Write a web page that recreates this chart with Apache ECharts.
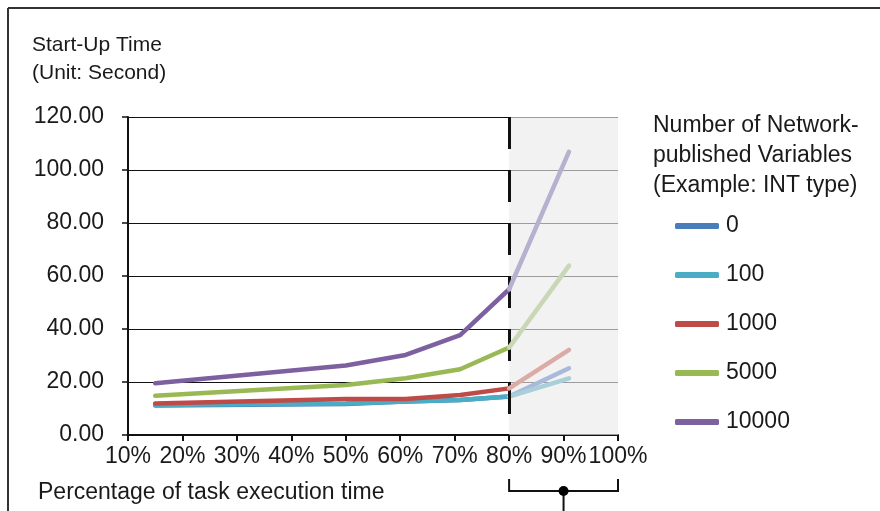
<!DOCTYPE html>
<html>
<head>
<meta charset="utf-8">
<script src="https://cdn.jsdelivr.net/npm/echarts@6/dist/echarts.min.js"></script>
<style>
  html, body { margin: 0; padding: 0; background: #fff; }
  #chart { width: 880px; height: 511px; }
</style>
</head>
<body>
<div id="chart"></div>
<script>
// x positions (percentage of task execution time)
const xPct = [15, 50, 61, 71, 80, 91]
const seriesNames = ['0', '100', '1000', '5000', '10000']
const vals0 = [11.1, 11.7, 12.6, 13.2, 14.5, 25.2]
const vals100 = [11.3, 11.9, 12.6, 13.2, 14.5, 21.4]
const vals1000 = [11.9, 13.6, 13.6, 15.1, 17.6, 32.1]
const vals5000 = [14.8, 18.9, 21.4, 24.8, 33.0, 63.9]
const vals10000 = [19.5, 26.2, 30.2, 37.7, 55.0, 106.9]

const darkColors = ['#4a7ebb', '#4bacc6', '#be4b48', '#98b954', '#7d60a0']
const lightColors = ['#a9b9d9', '#a9cfd9', '#dcaba6', '#c9d7b6', '#b8b0cf']
const allVals = [vals0, vals100, vals1000, vals5000, vals10000]
const splitX = 80

const font = 'Liberation Sans, Arial, sans-serif'
const textColor = '#1a1a1a'
const chart = echarts.init(document.getElementById('chart'))

const series = []
// shaded region
series.push({
  type: 'line',
  data: [],
  z: 1,
  silent: true,
  markArea: {
    silent: true,
    itemStyle: { color: 'rgba(234,234,234,0.64)' },
    data: [[{ xAxis: splitX }, { xAxis: 100 }]]
  }
})
allVals.forEach((vals, i) => {
  const pts = xPct.map((x, k) => [x, vals[k]])
  series.push({
    name: seriesNames[i],
    type: 'line',
    z: 3 + i,
    showSymbol: false,
    symbol: 'none',
    color: darkColors[i],
    lineStyle: { width: 4.5, color: darkColors[i], cap: 'round', join: 'round' },
    data: pts.filter(p => p[0] <= splitX)
  })
  series.push({
    name: seriesNames[i] + '-light',
    type: 'line',
    z: 3 + i,
    showSymbol: false,
    symbol: 'none',
    lineStyle: { width: 4.5, color: lightColors[i], cap: 'round', join: 'round' },
    data: pts.filter(p => p[0] >= splitX)
  })
})
// dashed divider
series.push({
  type: 'line',
  data: [],
  z: 20,
  silent: true,
  markLine: {
    silent: true,
    symbol: 'none',
    label: { show: false },
    lineStyle: { color: '#111', width: 3, type: [32, 21] },
    data: [[{ coord: [splitX, 120] }, { coord: [splitX, 0] }]]
  }
})

chart.setOption({
  animation: false,
  grid: { left: 128, right: 262, top: 117, bottom: 76 },
  xAxis: {
    type: 'value',
    min: 10,
    max: 100,
    interval: 10,
    axisLine: { lineStyle: { color: '#111', width: 2 } },
    axisTick: { length: 6, lineStyle: { color: '#111', width: 2 } },
    splitLine: { show: false },
    axisLabel: {
      formatter: '{value}%',
      color: textColor,
      fontSize: 23,
      fontFamily: font,
      margin: 10
    }
  },
  yAxis: {
    type: 'value',
    min: 0,
    max: 120,
    interval: 20,
    axisLine: { show: true, lineStyle: { color: '#111', width: 2 } },
    axisTick: { show: true, length: 6, lineStyle: { color: '#111', width: 1.5 } },
    splitLine: { lineStyle: { color: '#111', width: 1 } },
    axisLabel: {
      formatter: v => v.toFixed(2),
      color: textColor,
      fontSize: 23,
      fontFamily: font,
      margin: 24
    }
  },
  legend: {
    data: seriesNames,
    orient: 'vertical',
    left: 670,
    top: 209,
    icon: 'roundRect',
    itemWidth: 44,
    itemHeight: 6,
    itemGap: 25,
    textStyle: { fontSize: 23, fontFamily: font, color: textColor, lineHeight: 24, padding: [0, 0, 0, 2] }
  },
  series
})

// annotations, placed from axis coordinates
const xa = chart.convertToPixel({ gridIndex: 0 }, [splitX, 0])[0]
const xb = chart.convertToPixel({ gridIndex: 0 }, [100, 0])[0]
const xm = chart.convertToPixel({ gridIndex: 0 }, [90, 0])[0]
chart.setOption({
  graphic: [
    { id: 'frameTop', type: 'line', shape: { x1: 8, y1: 8, x2: 880, y2: 8 }, style: { stroke: '#333', lineWidth: 2 } },
    { id: 'frameLeft', type: 'line', shape: { x1: 8, y1: 8, x2: 8, y2: 511 }, style: { stroke: '#333', lineWidth: 2 } },
    {
      id: 'yName', type: 'text', left: 32, top: 31,
      style: { text: 'Start-Up Time\n(Unit: Second)', font: '21px ' + font, fill: textColor, lineHeight: 28 }
    },
    {
      id: 'legendTitle', type: 'text', left: 653, top: 111,
      style: {
        text: 'Number of Network-\npublished Variables\n(Example: INT type)',
        font: '23px ' + font, fill: textColor, lineHeight: 30
      }
    },
    {
      id: 'xName', type: 'text', left: 38, top: 481,
      style: { text: 'Percentage of task execution time', font: '23px ' + font, fill: textColor }
    },
    { id: 'bracket', type: 'polyline', shape: { points: [[xa, 479], [xa, 491], [xb, 491], [xb, 479]] }, style: { stroke: '#111', lineWidth: 2, fill: null } },
    { id: 'stem', type: 'line', shape: { x1: xm, y1: 491, x2: xm, y2: 511 }, style: { stroke: '#111', lineWidth: 2 } },
    { id: 'dot', type: 'circle', shape: { cx: xm, cy: 491, r: 5 }, style: { fill: '#000' } }
  ]
})
</script>
</body>
</html>
